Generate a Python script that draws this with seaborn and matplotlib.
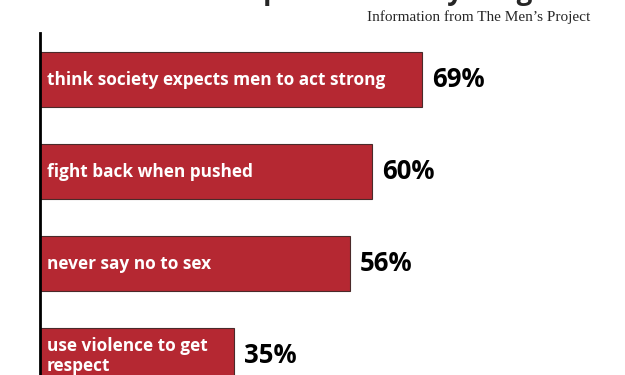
import pandas as pd
import seaborn as sns
import matplotlib.pyplot as plt

# data
behaviours = [
    "think society expects men to act strong",
    "fight back when pushed",
    "never say no to sex",
    "use violence to get\nrespect",
]
percent = [69, 60, 56, 35]
pct_labels = ["69%", "60%", "56%", "35%"]

df = pd.DataFrame({"behaviour": behaviours, "percent": percent})

sns.set_theme(style="white")
plt.rcParams["font.family"] = ["Open Sans", "DejaVu Sans"]

BAR_RED = "#b52832"

fig = plt.figure(figsize=(6.25, 3.75), dpi=100)
ax = fig.add_axes([40 / 625, 0, 0.9, 1 - 33 / 375])

sns.barplot(data=df, x="percent", y="behaviour", orient="h", color=BAR_RED,
            saturation=1, width=0.6, edgecolor="#4a2a2a", linewidth=0.8, ax=ax)

ax.set_xlim(0, 101.7)
ax.set_ylim(3.21, -0.51)

# labels inside and values outside the bars
for i, (txt, val, lab) in enumerate(zip(behaviours, percent, pct_labels)):
    ax.text(1.2, i, txt, color="white", fontsize=12.4, fontweight="bold",
            va="center", ha="left", linespacing=1.15)
    ax.text(val + 1.9, i, lab, color="black", fontsize=18.5, fontweight="bold",
            va="center", ha="left")

ax.set_xlabel("")
ax.set_ylabel("")
ax.set_xticks([])
ax.set_yticks([])
for side in ["top", "right", "bottom"]:
    ax.spines[side].set_visible(False)
ax.spines["left"].set_color("black")
ax.spines["left"].set_linewidth(2)

# title sits above the top edge, only the descenders show
fig.text(0.235, 1 + 1.5 / 375, "Societal pressures on young men", fontsize=20,
         fontweight="bold", ha="left", va="baseline")
fig.text(590 / 625, 1 - 17 / 375, "Information from The Men\u2019s Project",
         fontsize=11, family=["Liberation Serif", "DejaVu Serif"],
         ha="right", va="center")

fig.savefig("out.png", dpi=100)
